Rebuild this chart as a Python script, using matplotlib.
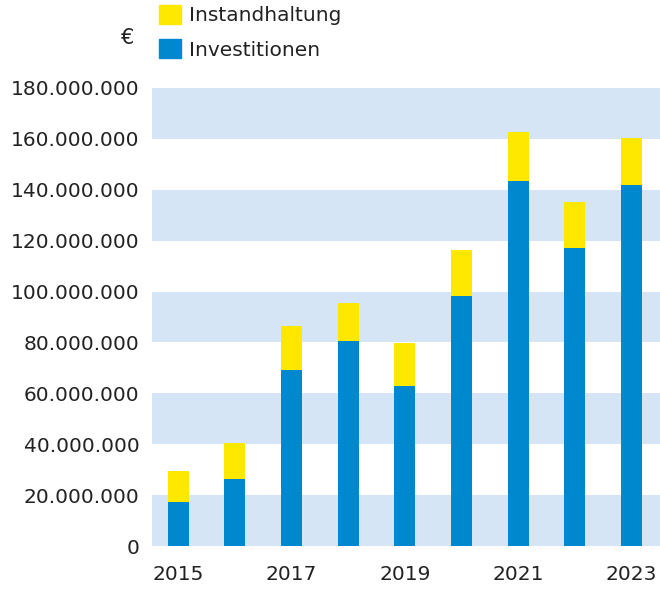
import matplotlib.pyplot as plt
from matplotlib.patches import Patch

# Daten
jahre = ['2015', '2016', '2017', '2018', '2019', '2020', '2021', '2022', '2023']
investitionen = [17.4e6, 26.2e6, 69.2e6, 80.6e6, 63.0e6, 98.3e6, 143.5e6, 117.0e6, 141.9e6]
gesamt = [29.6e6, 40.4e6, 86.5e6, 95.6e6, 79.9e6, 116.4e6, 162.9e6, 135.3e6, 160.2e6]
instandhaltung = [g - i for g, i in zip(gesamt, investitionen)]
y_ticks = [0, 20e6, 40e6, 60e6, 80e6, 100e6, 120e6, 140e6, 160e6, 180e6]

blau = '#0088cf'
gelb = '#ffe800'
band = '#d5e5f5'

plt.rcParams['font.family'] = ['DejaVu Sans']

fig = plt.figure(figsize=(6.6, 5.92), dpi=100)
ax = fig.add_axes([152 / 660, 1 - 546 / 592, 1 - 152 / 660, (546 - 88) / 592])

# Hintergrundbänder
for lo, hi in zip(y_ticks[0::2], y_ticks[1::2]):
    ax.axhspan(lo, hi, color=band, lw=0, zorder=0)

x = list(range(len(jahre)))
ax.bar(x, investitionen, width=0.37, color=blau, zorder=2)
ax.bar(x, instandhaltung, width=0.37, bottom=investitionen, color=gelb, zorder=2)

ax.set_xlim(-0.46, 8.5)
ax.set_ylim(0, 180e6)
ax.set_yticks(y_ticks)
ax.set_yticklabels([f'{int(v):,}'.replace(',', '.') for v in y_ticks])
ax.set_xticks(x)
ax.set_xticklabels([j if k % 2 == 0 else '' for k, j in enumerate(jahre)])
ax.tick_params(axis='y', length=0, pad=9, labelsize=14.5, colors='#222222')
ax.tick_params(axis='x', length=0, pad=14, labelsize=14.5, colors='#222222')
for s in ax.spines.values():
    s.set_visible(False)

# Legende
handles = [Patch(color=gelb, label='Instandhaltung'), Patch(color=blau, label='Investitionen')]
fig.legend(handles=handles, loc='upper left', bbox_to_anchor=(147 / 660, 1.012),
           frameon=False, fontsize=14.5, handlelength=1.1, handleheight=1.05,
           handletextpad=0.4, labelspacing=0.7, borderaxespad=0.2, labelcolor='#222222')
fig.text(128 / 660, 1 - 38 / 592, '€', fontsize=15, ha='center', va='center',
         color='#222222')

fig.savefig('out.png', dpi=100)
